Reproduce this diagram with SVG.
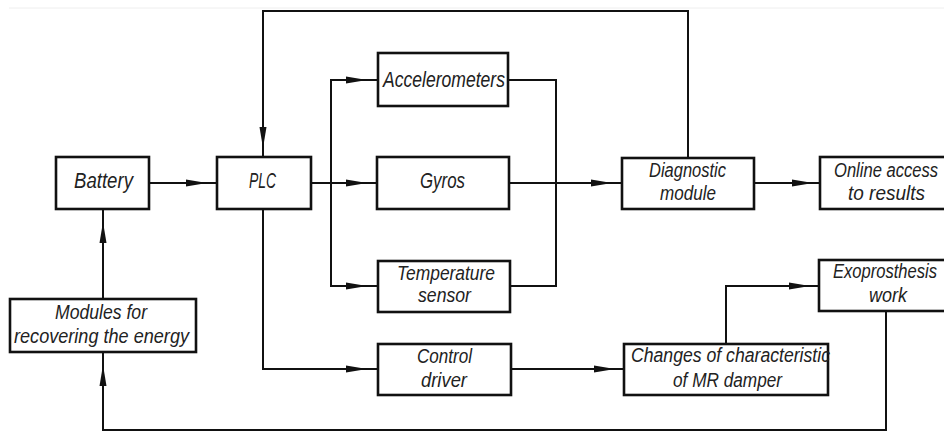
<svg xmlns="http://www.w3.org/2000/svg" width="944" height="432" viewBox="0 0 944 432">
<style>
.box{fill:#fff;stroke:#111;stroke-width:2.6}
.ln{fill:none;stroke:#111;stroke-width:2}
.t{font-family:"Liberation Sans",Arial,sans-serif;font-style:italic;font-size:20px;fill:#222}
.t1{font-size:22px}
.ah{fill:#111}
</style>
<defs>
<path id="ah" d="M0,0 L-21,-3.5 L-21,3.5 Z"/>
</defs>
<rect width="944" height="432" fill="#fff"/>
<line x1="9" y1="8" x2="944" y2="8" stroke="#eee" stroke-width="1"/>
<g id="connectors">
<polyline class="ln" points="688,157 688,11 263,11 263,157"/>
<line class="ln" x1="149" y1="183" x2="217" y2="183"/>
<line class="ln" x1="311" y1="183" x2="377" y2="183"/>
<polyline class="ln" points="378,80 331,80 331,286 378,286"/>
<polyline class="ln" points="508,80 556,80 556,286 510,286"/>
<line class="ln" x1="509" y1="183" x2="622" y2="183"/>
<line class="ln" x1="754" y1="183" x2="820" y2="183"/>
<polyline class="ln" points="263,209 263,369 378,369"/>
<line class="ln" x1="511" y1="369" x2="624" y2="369"/>
<polyline class="ln" points="726,344 726,286 819,286"/>
<polyline class="ln" points="886,311 886,430 103,430 103,352"/>
<line class="ln" x1="103" y1="299" x2="103" y2="209"/>
<use href="#ah" class="ah" transform="translate(263,148) rotate(90)"/>
<use href="#ah" class="ah" transform="translate(207,183)"/>
<use href="#ah" class="ah" transform="translate(367,80)"/>
<use href="#ah" class="ah" transform="translate(367,183)"/>
<use href="#ah" class="ah" transform="translate(367,286)"/>
<use href="#ah" class="ah" transform="translate(367,369)"/>
<use href="#ah" class="ah" transform="translate(612,183)"/>
<use href="#ah" class="ah" transform="translate(813,183)"/>
<use href="#ah" class="ah" transform="translate(615,369)"/>
<use href="#ah" class="ah" transform="translate(810,286)"/>
<use href="#ah" class="ah" transform="translate(103,222) rotate(-90)"/>
<use href="#ah" class="ah" transform="translate(103,365) rotate(-90)"/>
</g>
<g id="battery">
<rect class="box" x="56" y="157" width="93" height="52"/>
<text class="t t1" x="74" y="188" textLength="59" lengthAdjust="spacingAndGlyphs">Battery</text>
</g>
<g id="plc">
<rect class="box" x="217" y="157" width="94" height="52"/>
<text class="t t1" x="249" y="188" textLength="27" lengthAdjust="spacingAndGlyphs">PLC</text>
</g>
<g id="accelerometers">
<rect class="box" x="378" y="53" width="130" height="53"/>
<text class="t t1" x="383" y="87" textLength="122" lengthAdjust="spacingAndGlyphs">Accelerometers</text>
</g>
<g id="gyros">
<rect class="box" x="377" y="157" width="132" height="52"/>
<text class="t t1" x="420" y="188" textLength="45" lengthAdjust="spacingAndGlyphs">Gyros</text>
</g>
<g id="temperature">
<rect class="box" x="378" y="261" width="132" height="51"/>
<text class="t" x="397" y="280" textLength="98" lengthAdjust="spacingAndGlyphs">Temperature</text>
<text class="t" x="418" y="302" textLength="53" lengthAdjust="spacingAndGlyphs">sensor</text>
</g>
<g id="control">
<rect class="box" x="378" y="344" width="133" height="51"/>
<text class="t" x="417" y="363" textLength="55" lengthAdjust="spacingAndGlyphs">Control</text>
<text class="t" x="421" y="387" textLength="46" lengthAdjust="spacingAndGlyphs">driver</text>
</g>
<g id="diagnostic">
<rect class="box" x="622" y="158" width="132" height="51"/>
<text class="t" x="649" y="177" textLength="77" lengthAdjust="spacingAndGlyphs">Diagnostic</text>
<text class="t" x="660" y="200" textLength="56" lengthAdjust="spacingAndGlyphs">module</text>
</g>
<g id="online">
<rect class="box" x="820" y="157" width="134" height="52"/>
<text class="t" x="834" y="177" textLength="104" lengthAdjust="spacingAndGlyphs">Online access</text>
<text class="t" x="848" y="200" textLength="77" lengthAdjust="spacingAndGlyphs">to results</text>
</g>
<g id="modules">
<rect class="box" x="10" y="299" width="186" height="53"/>
<text class="t" x="55" y="319" textLength="92" lengthAdjust="spacingAndGlyphs">Modules for</text>
<text class="t" x="14" y="343" textLength="175" lengthAdjust="spacingAndGlyphs">recovering the energy</text>
</g>
<g id="changes">
<rect class="box" x="624" y="344" width="204" height="51"/>
<text class="t" x="631" y="362" textLength="199" lengthAdjust="spacingAndGlyphs">Changes of characteristic</text>
<text class="t" x="673" y="387" textLength="109" lengthAdjust="spacingAndGlyphs">of MR damper</text>
</g>
<g id="exoprosthesis">
<rect class="box" x="819" y="260" width="134" height="51"/>
<text class="t" x="833" y="278" textLength="104" lengthAdjust="spacingAndGlyphs">Exoprosthesis</text>
<text class="t" x="869" y="302" textLength="38" lengthAdjust="spacingAndGlyphs">work</text>
</g>
</svg>
